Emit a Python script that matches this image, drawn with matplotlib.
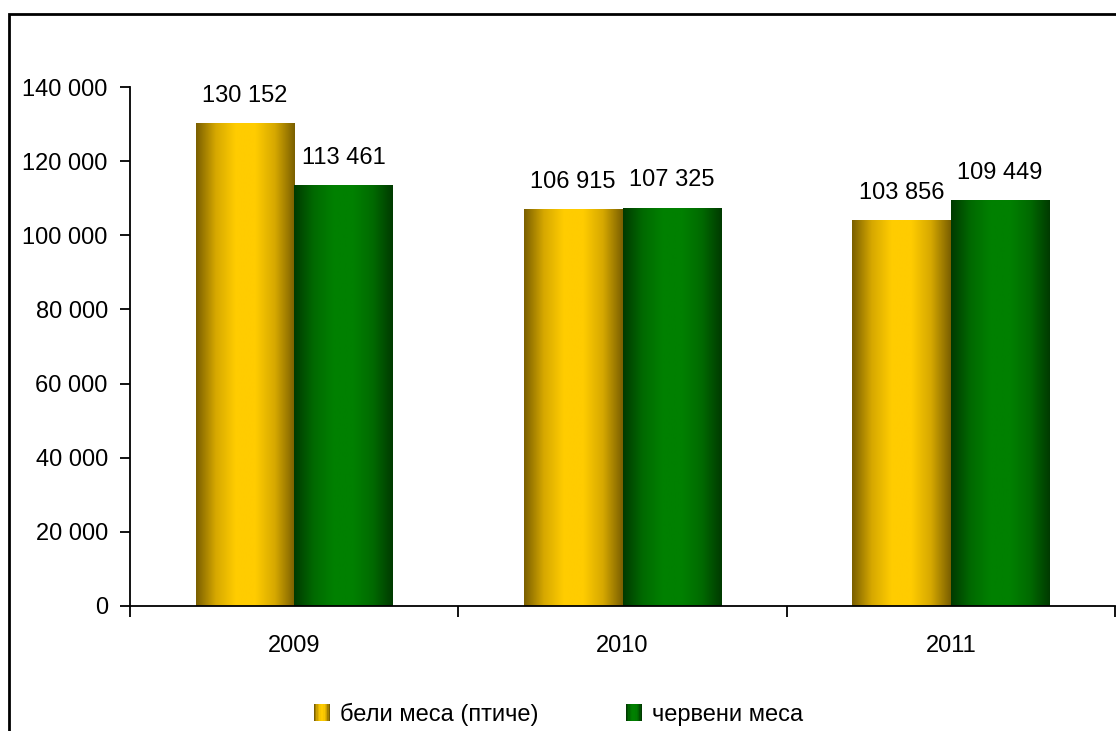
import numpy as np
import matplotlib.pyplot as plt
from matplotlib.patches import Rectangle
from matplotlib.legend_handler import HandlerBase
from matplotlib.colors import LinearSegmentedColormap

plt.rcParams["font.family"] = ["Liberation Sans", "DejaVu Sans"]

years = ["2009", "2010", "2011"]
white_meat = [130152, 106915, 103856]
red_meat = [113461, 107325, 109449]
series_names = ["бели меса (птиче)", "червени меса"]
yticks = [0, 20000, 40000, 60000, 80000, 100000, 120000, 140000]

gold_cmap = LinearSegmentedColormap.from_list(
    "gold", ["#7a5f00", "#d6a800", "#ffcc00", "#ffcc00", "#d6a800", "#7a5f00"])
green_cmap = LinearSegmentedColormap.from_list(
    "green", ["#003a00", "#006a00", "#008000", "#008000", "#006a00", "#003a00"])


def fmt(v):
    return f"{v:,}".replace(",", " ")


def gradient_bar(ax, x0, width, height, cmap):
    grad = np.linspace(0, 1, 256).reshape(1, -1)
    ax.imshow(grad, cmap=cmap, extent=(x0, x0 + width, 0, height),
              aspect="auto", interpolation="bilinear", zorder=2)


class GradientHandler(HandlerBase):
    def __init__(self, cmap):
        super().__init__()
        self.cmap = cmap

    def create_artists(self, legend, orig_handle, xdescent, ydescent,
                       width, height, fontsize, trans):
        n = 12
        side = height * 1.0
        x0 = xdescent + width - side
        arts = []
        for i in range(n):
            r = Rectangle((x0 + side * i / n, -ydescent), side / n, side,
                          facecolor=self.cmap(i / (n - 1)), edgecolor="none",
                          transform=trans)
            arts.append(r)
        return arts


fig = plt.figure(figsize=(11.16, 7.31), dpi=100)
ax = fig.add_axes([130 / 1116, 125 / 731, 985 / 1116, 519 / 731])

x = np.arange(len(years))
bw = 0.3
for i in range(len(years)):
    gradient_bar(ax, x[i] - bw, bw, white_meat[i], gold_cmap)
    gradient_bar(ax, x[i], bw, red_meat[i], green_cmap)
    ax.annotate(fmt(white_meat[i]), (x[i] - bw / 2, white_meat[i]),
                xytext=(0, 12), textcoords="offset points",
                ha="center", va="bottom", fontsize=17)
    ax.annotate(fmt(red_meat[i]), (x[i] + bw / 2, red_meat[i]),
                xytext=(0, 12), textcoords="offset points",
                ha="center", va="bottom", fontsize=17)

ax.set_xlim(-0.5, len(years) - 0.5)
ax.set_ylim(0, 140000)
ax.set_yticks(yticks)
ax.set_yticklabels([fmt(v) for v in yticks])
ax.set_xticks(x)
ax.set_xticklabels(years)
ax.set_xticks([-0.5, 0.5, 1.5, 2.5], minor=True)
ax.tick_params(axis="x", which="major", length=0, pad=21, labelsize=17)
ax.tick_params(axis="x", which="minor", length=8, width=1.3, direction="out")
ax.tick_params(axis="y", length=7, width=1.3, pad=9, labelsize=17)
for s in ["top", "right"]:
    ax.spines[s].set_visible(False)
for s in ["left", "bottom"]:
    ax.spines[s].set_linewidth(1.3)

handles = [Rectangle((0, 0), 1, 1), Rectangle((0, 1), 1, 1)]
ax.legend(handles, series_names, loc="center", bbox_to_anchor=(557 / 1116, 17 / 731),
          bbox_transform=fig.transFigure, ncol=2, frameon=False, fontsize=17,
          handlelength=0.8, handletextpad=0.4, columnspacing=3.6,
          handler_map={handles[0]: GradientHandler(gold_cmap),
                       handles[1]: GradientHandler(green_cmap)})

fig.patches.append(Rectangle((9 / 1116, -0.05), 1.2, (731 - 14) / 731 + 0.05,
                             transform=fig.transFigure, fill=False,
                             edgecolor="black", linewidth=2))

fig.savefig("out.png", dpi=100)
